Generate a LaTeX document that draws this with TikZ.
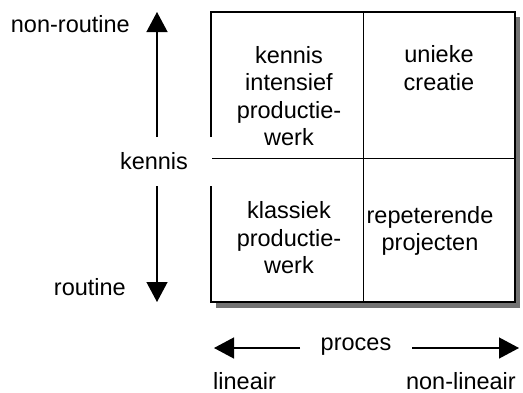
\documentclass[tikz,border=0pt]{standalone}
\usepackage{fontspec}
\setmainfont{Liberation Sans}
\usetikzlibrary{arrows.meta}
\begin{document}
\begin{tikzpicture}[x=1pt,y=-1pt,
  lbl/.style={font=\fontsize{23.5}{27.5}\selectfont, inner sep=0pt, align=center},
  axis/.style={line width=1.3pt, -{Triangle[length=20pt,width=21pt]}},
  frame/.style={line width=1.8pt},
  divider/.style={line width=1pt}]
  \useasboundingbox (0,0) rectangle (523,392);
  % shadow of the matrix
  \fill[black!55] (216,17) rectangle (520,308);
  \fill[white] (211,12) rectangle (515,302);
  % frame, left edge interrupted around the axis label
  \draw[frame] (211,137) -- (211,12) -- (515,12) -- (515,302) -- (211,302) -- (211,186);
  \draw[divider] (363,12) -- (363,302);
  \draw[divider] (212,158) -- (515,158);
  % quadrant labels
  \node[lbl] (q1) at (289,96) {kennis\\intensief\\productie-\\werk};
  \node[lbl] (q2) at (439,68) {unieke\\creatie};
  \node[lbl] (q3) at (289,238) {klassiek\\productie-\\werk};
  \node[lbl] (q4) at (430,231) {repeterende\\projecten};
  % knowledge axis
  \node[lbl] (kennis) at (154,161) {kennis};
  \coordinate (ktop) at (157,137);
  \coordinate (kbot) at (157,186);
  \coordinate (kup) at (157,12);
  \coordinate (kdown) at (157,302);
  \draw[axis] (ktop) -- (kup);
  \draw[axis] (kbot) -- (kdown);
  \node[lbl, anchor=east] (nonroutine) at (130,24) {non-routine};
  \node[lbl, anchor=east] (routine) at (126,287) {routine};
  % process axis
  \node[lbl] (proces) at (356,347) {proces};
  \coordinate (pl) at (300,348);
  \coordinate (pr) at (412,348);
  \coordinate (plend) at (214,348);
  \coordinate (prend) at (519,348);
  \draw[axis] (pl) -- (plend);
  \draw[axis] (pr) -- (prend);
  \node[lbl, anchor=west] (lineair) at (213,381) {lineair};
  \node[lbl, anchor=east] (nonlineair) at (516,381) {non-lineair};
\end{tikzpicture}
\end{document}
